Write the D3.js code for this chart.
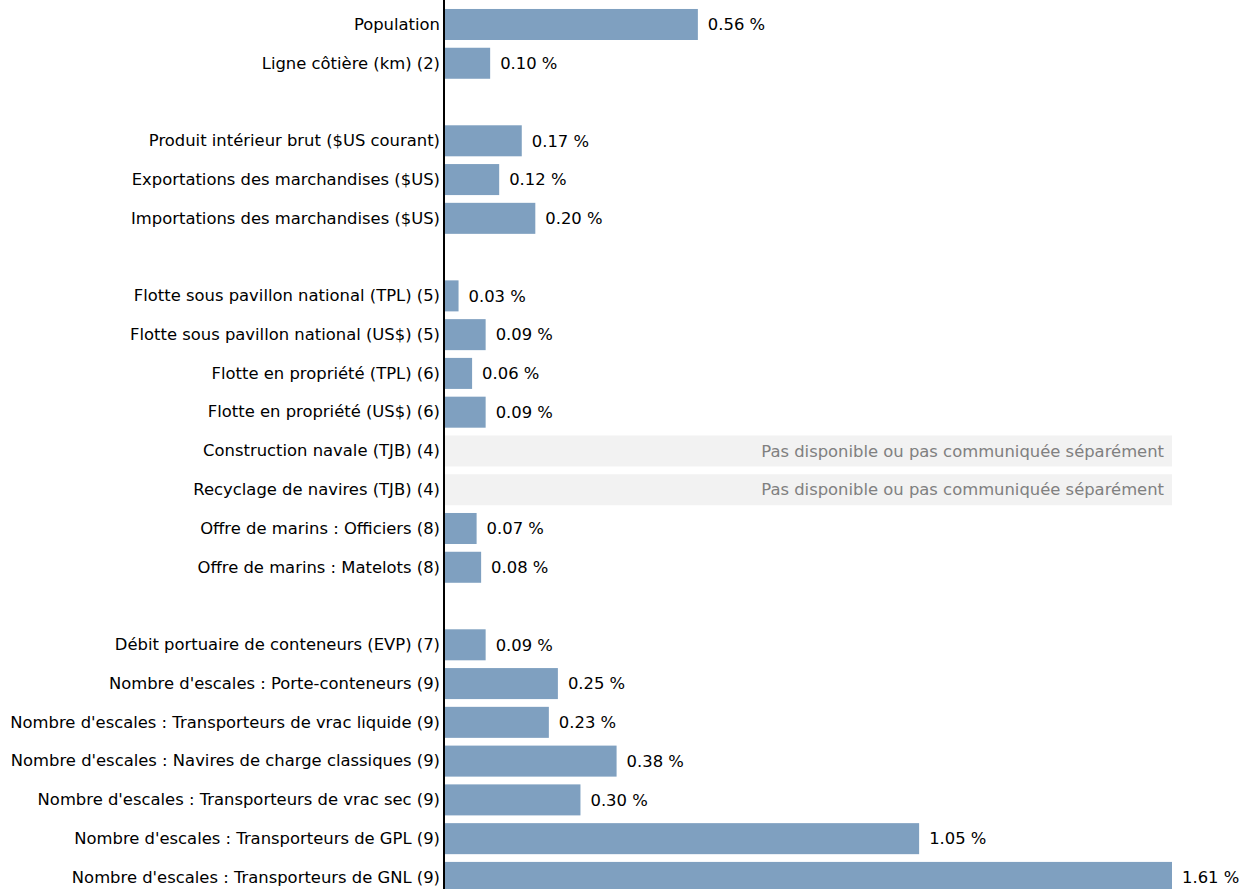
<!DOCTYPE html>
<html>
<head>
<meta charset="utf-8">
<script src="https://cdn.jsdelivr.net/npm/d3@7"></script>
<style>
  html, body { margin: 0; padding: 0; background: #fff; overflow: hidden; }
  svg { display: block; font-family: "DejaVu Sans", sans-serif; }
</style>
</head>
<body>
<svg id="chart" width="1249" height="889"></svg>
<script>
// Row labels; empty strings are spacer rows between indicator groups
const categories = [
  "Population",
  "Ligne côtière (km) (2)",
  "",
  "Produit intérieur brut ($US courant)",
  "Exportations des marchandises ($US)",
  "Importations des marchandises ($US)",
  "",
  "Flotte sous pavillon national (TPL) (5)",
  "Flotte sous pavillon national (US$) (5)",
  "Flotte en propriété (TPL) (6)",
  "Flotte en propriété (US$) (6)",
  "Construction navale (TJB) (4)",
  "Recyclage de navires (TJB) (4)",
  "Offre de marins : Officiers (8)",
  "Offre de marins : Matelots (8)",
  "",
  "Débit portuaire de conteneurs (EVP) (7)",
  "Nombre d'escales : Porte-conteneurs (9)",
  "Nombre d'escales : Transporteurs de vrac liquide (9)",
  "Nombre d'escales : Navires de charge classiques (9)",
  "Nombre d'escales : Transporteurs de vrac sec (9)",
  "Nombre d'escales : Transporteurs de GPL (9)",
  "Nombre d'escales : Transporteurs de GNL (9)"
];

// Share in percent; null = spacer row, NaN = not available
const values = [
  0.56, 0.10, null,
  0.17, 0.12, 0.20, null,
  0.03, 0.09, 0.06, 0.09, NaN, NaN, 0.07, 0.08, null,
  0.09, 0.25, 0.23, 0.38, 0.30, 1.05, 1.61
];

const unavailableText = "Pas disponible ou pas communiquée séparément";

const rows = categories.map((c, i) => ({ i, label: c, value: values[i] }));

const svg = d3.select("#chart");
const axisX = 444;

const x = d3.scaleLinear()
  .domain([0, d3.max(values.filter(v => v != null && !isNaN(v)))])
  .range([axisX + 1, 1172]);

const y = d3.scaleBand()
  .domain(rows.map(d => d.i))
  .range([5.1, 5.1 + 23 * 38.77])
  .paddingInner(0.2)
  .paddingOuter(0.1);

const fontSize = 16.4;

// Placeholder bands for indicators without data
const na = rows.filter(d => d.value != null && isNaN(d.value));
svg.append("g").selectAll("rect")
  .data(na)
  .join("rect")
  .attr("x", x(0))
  .attr("y", d => y(d.i))
  .attr("width", x.range()[1] - x(0))
  .attr("height", y.bandwidth())
  .attr("fill", "#f2f2f2");

svg.append("g").selectAll("text")
  .data(na)
  .join("text")
  .attr("x", x.range()[1] - 8)
  .attr("y", d => y(d.i) + y.bandwidth() / 2)
  .attr("dy", "0.35em")
  .attr("text-anchor", "end")
  .attr("font-size", fontSize)
  .attr("fill", "#808080")
  .text(unavailableText);

// Bars
const data = rows.filter(d => d.value != null && !isNaN(d.value));
svg.append("g").selectAll("rect")
  .data(data)
  .join("rect")
  .attr("x", x(0))
  .attr("y", d => y(d.i))
  .attr("width", d => x(d.value) - x(0))
  .attr("height", y.bandwidth())
  .attr("fill", "#7fa0c0");

// Value labels
svg.append("g").selectAll("text")
  .data(data)
  .join("text")
  .attr("x", d => x(d.value) + 10)
  .attr("y", d => y(d.i) + y.bandwidth() / 2)
  .attr("dy", "0.35em")
  .attr("font-size", fontSize)
  .attr("fill", "#000")
  .text(d => d.value.toFixed(2) + " %");

// Category axis
const axis = d3.axisLeft(y)
  .tickSize(0)
  .tickPadding(4)
  .tickFormat(i => categories[i]);

const gAxis = svg.append("g")
  .attr("transform", `translate(${axisX},0)`)
  .call(axis);
gAxis.select(".domain")
  .attr("d", `M0,0V889`)
  .attr("stroke", "#000")
  .attr("stroke-width", 2);
gAxis.selectAll("text")
  .attr("font-size", fontSize)
  .attr("font-family", "\"DejaVu Sans\", sans-serif")
  .attr("fill", "#000");
</script>
</body>
</html>
